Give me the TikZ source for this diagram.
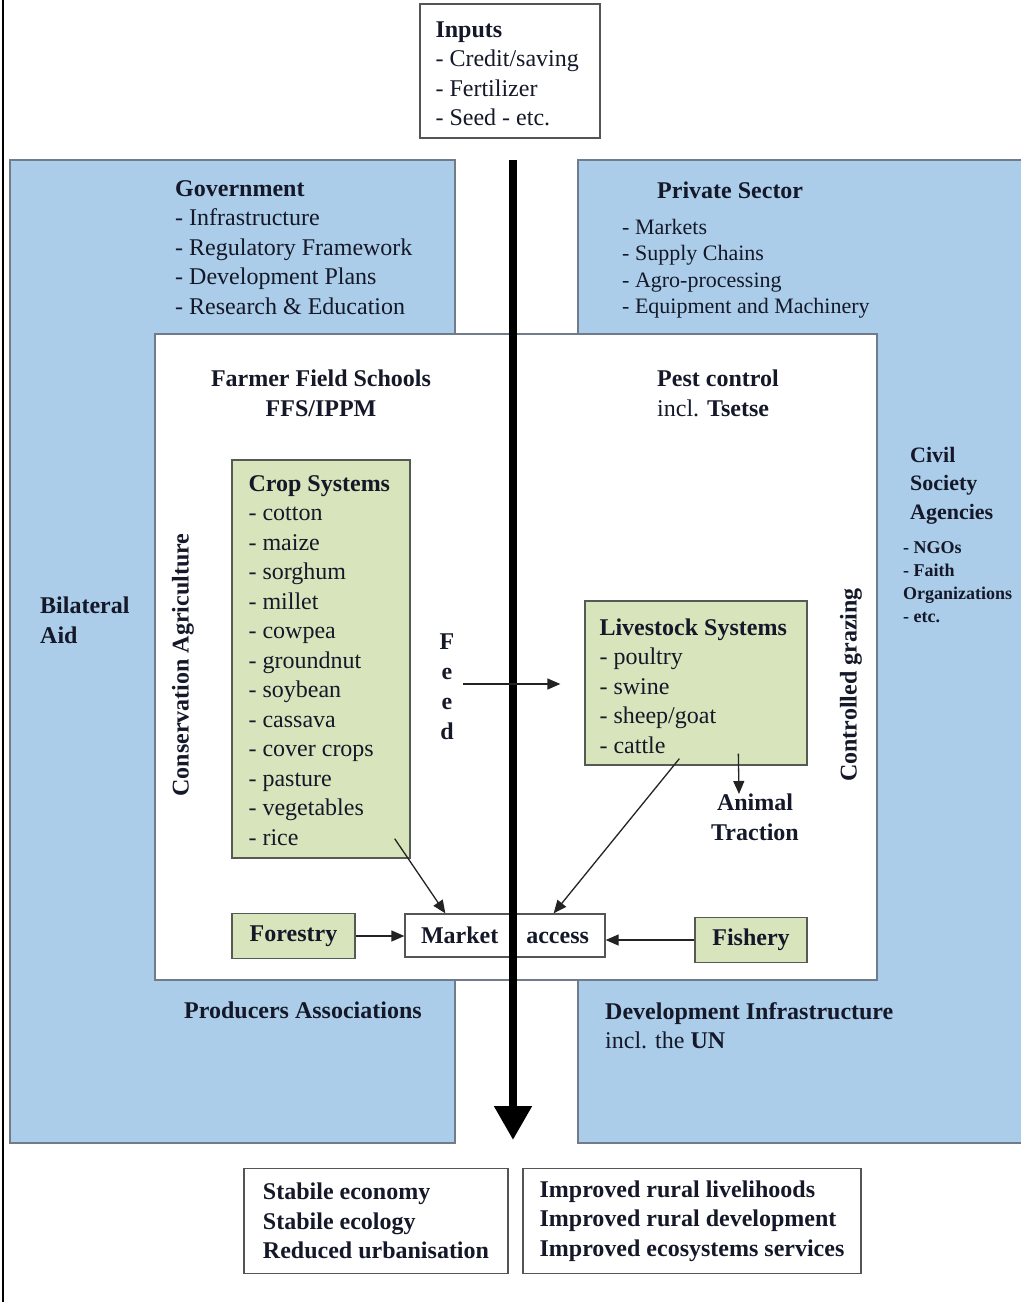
\documentclass[tikz,border=0pt]{standalone}
\usepackage{fontspec}
\setmainfont{Liberation Serif}
\usetikzlibrary{arrows.meta}

\tikzset{
  bluearea/.style={fill={rgb, 255:red, 171; green, 205; blue, 233}},
  areaedge/.style={draw={rgb, 255:red, 112; green, 124; blue, 140}, line width=2pt},
  greenbox/.style={draw={rgb, 255:red, 85; green, 90; blue, 85}, fill={rgb, 255:red, 216; green, 228; blue, 188}, line width=1.3pt, inner sep=0pt},
  plainbox/.style={draw={rgb, 255:red, 85; green, 85; blue, 85}, fill=white, line width=1.3pt, inner sep=0pt},
  words/.style={inner sep=0pt, text={rgb, 255:red, 20; green, 24; blue, 40}, font=\fontsize{24}{29.5}\selectfont},
  heavy/.style={font=\fontsize{24}{29.5}\selectfont\bfseries},
  txt/.style={words, anchor=north west, align=left},
  arr/.style={draw={rgb, 255:red, 35; green, 35; blue, 35}, line width=1.3pt, -{Triangle[length=13pt, width=11pt]}},
}

\begin{document}
\begin{tikzpicture}[x=1pt,y=1pt,yscale=-1,xscale=1]
\path[use as bounding box] (0,0) rectangle (1021,1302);

%Shape: Line (left frame)
\draw[line width=1.5pt] (3,0) -- (3,1302);

%Shape: Rectangle (left blue area)
\draw[bluearea, areaedge] (10,160) rectangle (455,1143);
%Shape: Rectangle (right blue area)
\fill[bluearea] (578,160) rectangle (1021,1143);
\draw[areaedge] (1021,160) -- (578,160) -- (578,1143) -- (1021,1143);
%Shape: Rectangle (inner white area)
\draw[fill=white, areaedge] (155,334) rectangle (877,980);

%Shape: Rectangle (inputs)
\node[plainbox, minimum width=180pt, minimum height=134pt] (inputs) at (510,71) {};
% Text Node
\node[txt] (inputstext) at ([shift={(16,18)}]inputs.north west) {\textbf{Inputs}\\- Credit/saving\\- Fertilizer\\- Seed - etc.};

% Text Node
\node[txt] (gov) at (175,180) {\textbf{Government}\\- Infrastructure\\- Regulatory Framework\\- Development Plans\\- Research \& Education};
% Text Node
\node[txt, heavy] (private) at (657,182) {Private Sector};
% Text Node
\node[txt, font=\fontsize{22}{26.5}\selectfont] (privatelist) at (622,219) {- Markets\\- Supply Chains\\- Agro-processing\\- Equipment and Machinery};
% Text Node
\node[txt, heavy] (bilateral) at (40,597) {Bilateral\\Aid};
% Text Node
\node[words, heavy, anchor=north, align=center] (ffs) at (321,370) {Farmer Field Schools\\FFS/IPPM};
% Text Node
\node[txt] (pest) at (657,370) {\textbf{Pest control}\\incl. \textbf{Tsetse}};
% Text Node
\node[txt, font=\fontsize{22}{28.5}\selectfont\bfseries] (civil) at (910,447) {Civil\\Society\\Agencies};
% Text Node
\node[txt, font=\fontsize{18}{23}\selectfont\bfseries] (civillist) at (903,541) {- NGOs\\- Faith\\Organizations\\- etc.};
% Text Node
\node[words, heavy, rotate=90] (consag) at (183,665) {Conservation Agriculture};
% Text Node
\node[words, heavy, rotate=90] (grazing) at (851,685) {Controlled grazing};
% Text Node
\node[words, heavy, anchor=north, align=center, font=\fontsize{24}{30}\selectfont\bfseries] (feed) at (447,634) {F\\e\\e\\d};

%Shape: Rectangle (crop systems)
\node[greenbox, minimum width=178pt, minimum height=398pt] (crop) at (321,659) {};
% Text Node
\node[txt] (croptext) at ([shift={(17,16)}]crop.north west) {\textbf{Crop Systems}\\- cotton\\- maize\\- sorghum\\- millet\\- cowpea\\- groundnut\\- soybean\\- cassava\\- cover crops\\- pasture\\- vegetables\\- rice};

%Shape: Rectangle (livestock systems)
\node[greenbox, minimum width=222pt, minimum height=164pt] (stock) at (696,683) {};
% Text Node
\node[txt] (stocktext) at ([shift={(15,18)}]stock.north west) {\textbf{Livestock Systems}\\- poultry\\- swine\\- sheep/goat\\- cattle};
% Text Node
\node[words, heavy, anchor=north, align=center] (traction) at (755,794) {Animal\\Traction};

%Shape: Rectangle (forestry, market, fishery)
\node[greenbox, words, heavy, minimum width=123pt, minimum height=45pt] (forestry) at (293.5,936) {Forestry};
\node[plainbox, words, heavy, minimum width=200pt, minimum height=43pt] (market) at (505,935.5) {Market\hspace{28pt}access};
\node[greenbox, words, heavy, minimum width=112pt, minimum height=45pt] (fishery) at (751,940) {Fishery};

% Text Node
\node[txt, heavy] (producers) at (184,1002) {Producers Associations};
% Text Node
\node[txt] (devinfra) at (605,1002) {\textbf{Development Infrastructure}\\incl. the \textbf{UN}};

%Shape: Rectangle (outcomes)
\node[plainbox, words, heavy, align=left, minimum width=264pt, minimum height=105pt] (outleft) at (376,1221) {Stabile economy\\Stabile ecology\\Reduced urbanisation};
\node[plainbox, words, heavy, align=left, minimum width=338pt, minimum height=105pt] (outright) at (692,1221) {Improved rural livelihoods\\Improved rural development\\Improved ecosystems services};

%Straight Lines (main flow)
\coordinate (flowtop) at (513,160);
\coordinate (flowend) at (513,1140);
\draw[line width=8pt, -{Triangle[length=34pt, width=36pt]}] (flowtop) -- (flowend);

%Straight Lines
\draw[arr, shorten <=8pt, shorten >=24pt] (feed.east |- 0,684) -- (stock.west |- 0,684);
\draw[arr] ([shift={(154,-12)}]stock.south west) -- (traction.north -| 739,0);
\draw[arr] ([shift={(-16,-20)}]crop.south east) -- ([shift={(41,0)}]market.north west);
\draw[arr] ([shift={(95,-7)}]stock.south west) -- ([shift={(-52,0)}]market.north east);
\draw[arr] (forestry.east) -- (market.west |- forestry.east);
\draw[arr] (fishery.west) -- (market.east |- fishery.west);

\end{tikzpicture}
\end{document}
